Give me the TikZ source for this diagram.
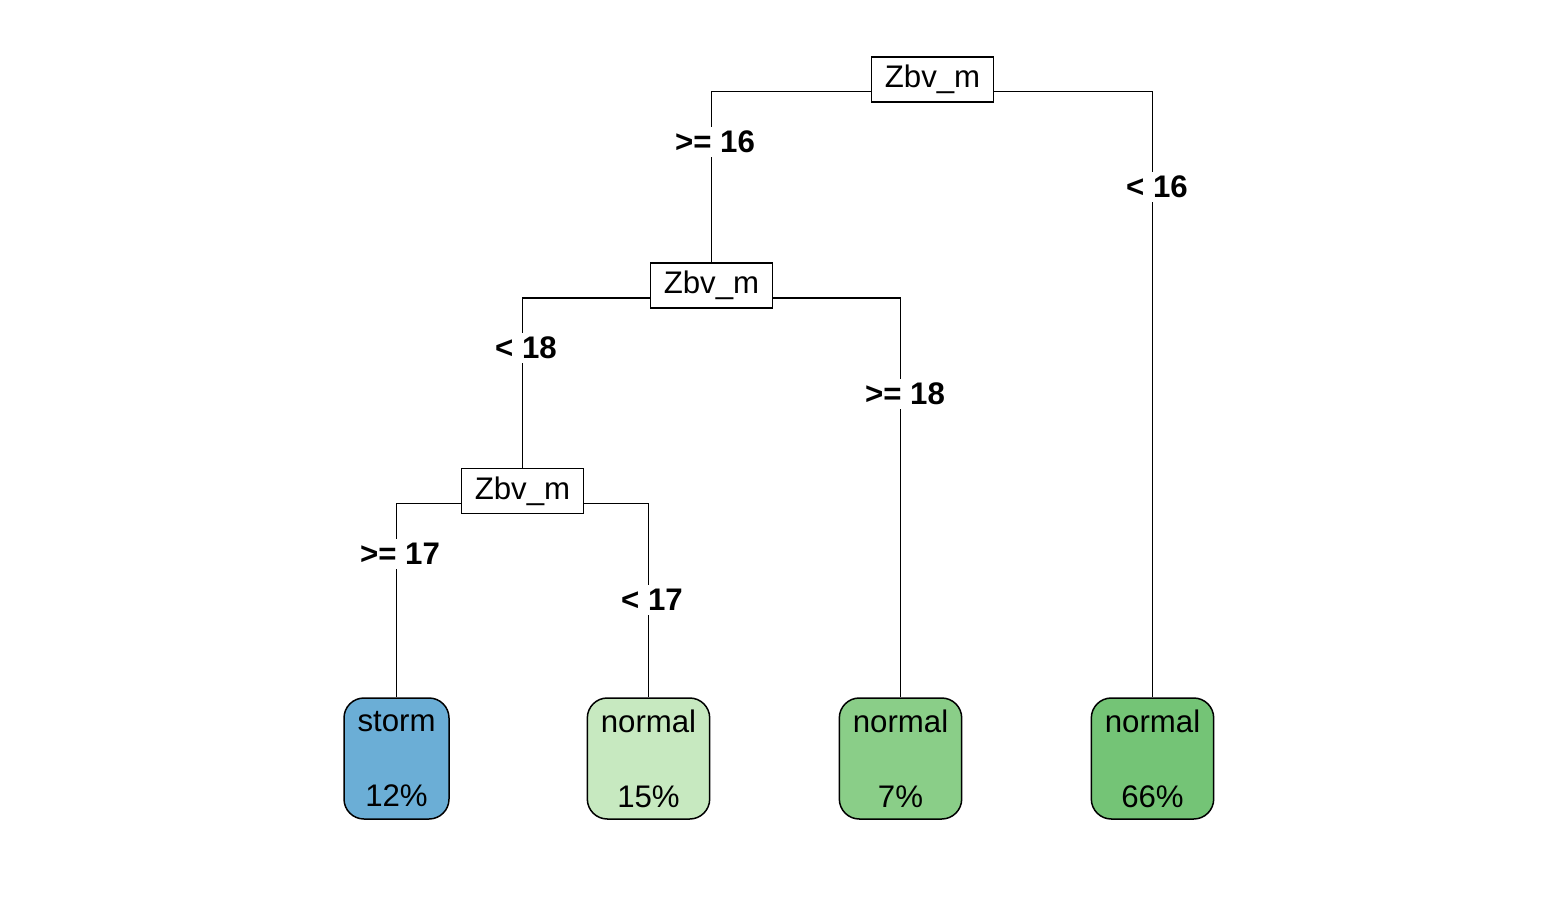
\documentclass[tikz,border=0pt]{standalone}
\usepackage{fontspec}
\setmainfont{Liberation Sans}
\usetikzlibrary{calc}
\definecolor{cstorm}{HTML}{6BAED6}
\definecolor{cn1}{HTML}{C7E9C0}
\definecolor{cn2}{HTML}{8ACE88}
\definecolor{cn3}{HTML}{74C476}
\tikzset{
  splitbox/.style={draw, line width=0.75pt, fill=white, inner xsep=6.75pt, inner ysep=0pt,
    minimum height=22.5pt, font=\fontsize{15.6}{18}\selectfont},
  leafbox/.style={draw, line width=0.75pt, rounded corners=10pt, inner xsep=6.75pt,
    minimum height=60.5pt, align=center, font=\fontsize{15.6}{18}\selectfont},
  edgelbl/.style={fill=white, inner sep=2pt, font=\fontsize{15.6}{18}\selectfont\bfseries},
  conn/.style={line width=0.75pt}
}
\begin{document}
\begin{tikzpicture}[x=0.5pt,y=-0.5pt]
\useasboundingbox (0,0) rectangle (1545,909);
% split nodes
\node[splitbox] (s1) at (932.5,79.5) {Zbv\_m};
\node[splitbox] (s2) at (711.5,285.5) {Zbv\_m};
\node[splitbox] (s3) at (522.5,491) {Zbv\_m};
% leaves
\node[leafbox, fill=cstorm] (l1) at (396.5,758.5) {storm\\[19.5pt]12\%};
\node[leafbox, fill=cn1] (l2) at (648.5,758.5) {normal\\[19.5pt]15\%};
\node[leafbox, fill=cn2] (l3) at (900.5,758.5) {normal\\[19.5pt]7\%};
\node[leafbox, fill=cn3] (l4) at (1152.5,758.5) {normal\\[19.5pt]66\%};
% connector start points
\coordinate (s1l) at ($(s1.south west)+(0,-11)$);
\coordinate (s1r) at ($(s1.south east)+(0,-11)$);
\coordinate (s2l) at ($(s2.south west)+(0,-11)$);
\coordinate (s2r) at ($(s2.south east)+(0,-11)$);
\coordinate (s3l) at ($(s3.south west)+(0,-11)$);
\coordinate (s3r) at ($(s3.south east)+(0,-11)$);
% connectors
\draw[conn] (s1l) -| (s2.north);
\draw[conn] (s1r) -| (l4.north);
\draw[conn] (s2l) -| (s3.north);
\draw[conn] (s2r) -| (l3.north);
\draw[conn] (s3l) -| (l1.north);
\draw[conn] (s3r) -| (l2.north);
% edge labels
\node[edgelbl] (e1) at (715,142) {>= 16};
\node[edgelbl] (e2) at (1157,187) {< 16};
\node[edgelbl] (e3) at (526,348) {< 18};
\node[edgelbl] (e4) at (905,394) {>= 18};
\node[edgelbl] (e5) at (400,554) {>= 17};
\node[edgelbl] (e6) at (652,600) {< 17};
\end{tikzpicture}
\end{document}
